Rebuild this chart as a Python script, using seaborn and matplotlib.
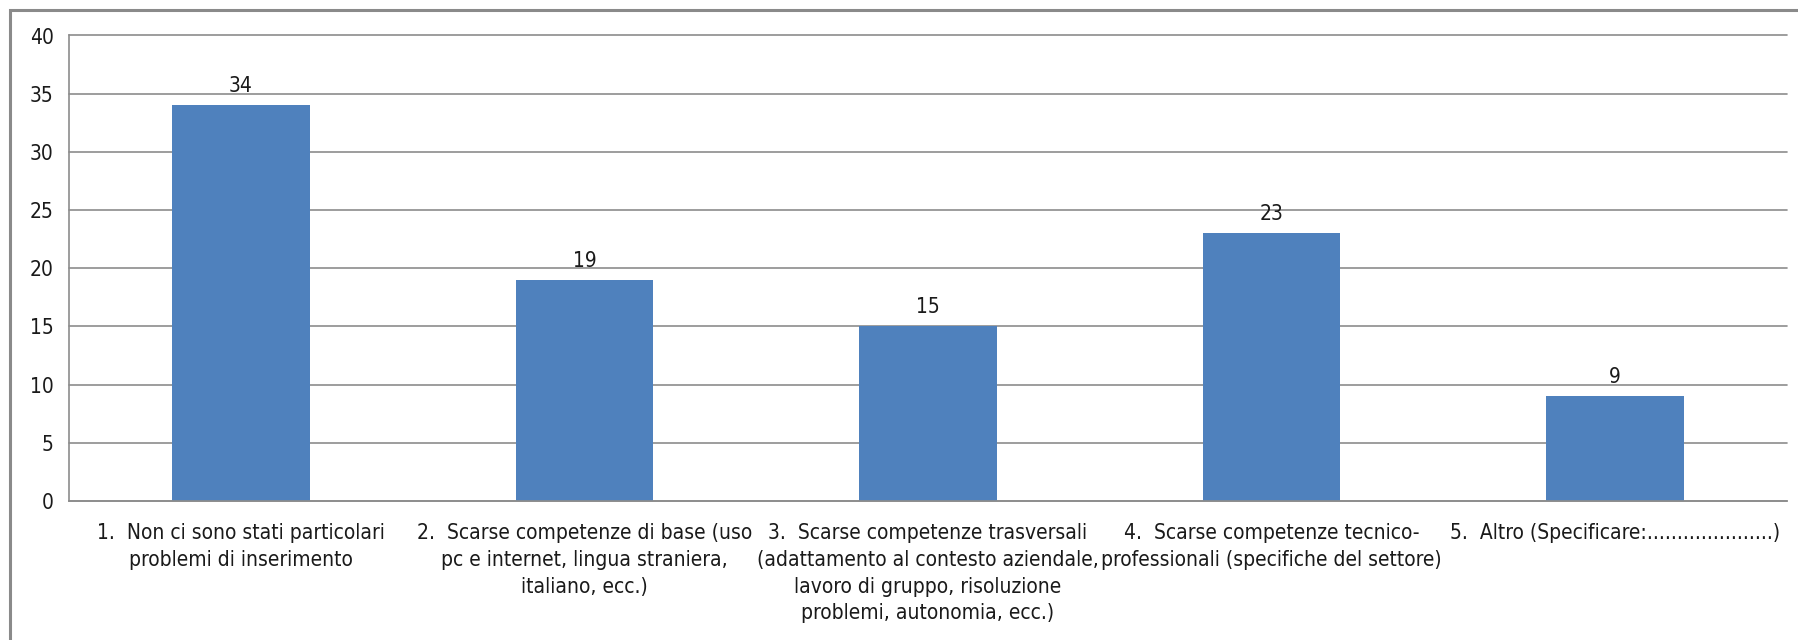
import matplotlib
matplotlib.use("Agg")
import matplotlib.pyplot as plt
import seaborn as sns
import pandas as pd
from matplotlib.patches import Rectangle
from matplotlib import font_manager

categories = [
    "1.  Non ci sono stati particolari\nproblemi di inserimento",
    "2.  Scarse competenze di base (uso\npc e internet, lingua straniera,\nitaliano, ecc.)",
    "3.  Scarse competenze trasversali\n(adattamento al contesto aziendale,\nlavoro di gruppo, risoluzione\nproblemi, autonomia, ecc.)",
    "4.  Scarse competenze tecnico-\nprofessionali (specifiche del settore)",
    "5.  Altro (Specificare:.....................)",
]
values = [34, 19, 15, 23, 9]
y_ticks = [0, 5, 10, 15, 20, 25, 30, 35, 40]

sns.set_theme(style="white")
plt.rcParams['font.family'] = ['DejaVu Sans']

# prefer a condensed face if installed
cond = [f.fname for f in font_manager.fontManager.ttflist
        if 'condensed' in str(f.stretch).lower() or 'Condensed' in f.fname or 'Narrow' in f.name]
cond = [c for c in cond if 'Bold' not in c and 'Oblique' not in c and 'Italic' not in c]
if cond:
    fp = font_manager.FontProperties(fname=cond[0])
    tick_fs = 15
else:
    fp = font_manager.FontProperties(family='DejaVu Sans')
    tick_fs = 12.5
fp_tick = fp.copy(); fp_tick.set_size(tick_fs)

df = pd.DataFrame({"cat": categories, "val": values})

fig = plt.figure(figsize=(17.98, 6.4), dpi=100)
ax = fig.add_axes([69/1798, 1-501/640, (1787-69)/1798, (501-35.5)/640])

sns.barplot(data=df, x="cat", y="val", color="#4F81BD", saturation=1, width=0.4,
            linewidth=0, ax=ax)

for i, v in enumerate(values):
    ax.text(i, v + 0.8, str(v), ha="center", va="bottom", fontproperties=fp_tick, color="#1a1a1a")

ax.set_ylim(0, 40)
ax.set_yticks(y_ticks)
ax.set_xlim(-0.5, len(values) - 0.5)
ax.set_xlabel("")
ax.set_ylabel("")
ax.yaxis.grid(True, color="#8c8c8c", linewidth=1.2)
ax.set_axisbelow(True)
for gl in ax.get_ygridlines():
    gl.set_clip_on(False)

ax.set_xticks([i for i in range(len(values))])
ax.set_xticklabels(categories, color="#1a1a1a", linespacing=1.42, va="top")
for lab in ax.get_xticklabels():
    lab.set_fontproperties(fp_tick)
ax.tick_params(axis="x", which="major", length=0, pad=16)
ax.set_xticks([i - 0.5 for i in range(len(values) + 1)], minor=True)
ax.tick_params(axis="x", which="minor", length=7, width=1.2, color="#8c8c8c", direction="out")
ax.tick_params(axis="y", length=7, width=1.2, color="#8c8c8c", direction="out", labelcolor="#1a1a1a", pad=4)
for lab in ax.get_yticklabels():
    lab.set_fontproperties(fp_tick)

for s in ["top", "right"]:
    ax.spines[s].set_visible(False)
for s in ["left", "bottom"]:
    ax.spines[s].set_color("#8c8c8c")
    ax.spines[s].set_linewidth(1.2)

fig.patches.append(Rectangle((10/1798, -0.1), 1.2, 0.1 + 630/640, transform=fig.transFigure,
                             fill=False, edgecolor="#8a8a8a", linewidth=2.2))

fig.savefig("out.png", dpi=100)
